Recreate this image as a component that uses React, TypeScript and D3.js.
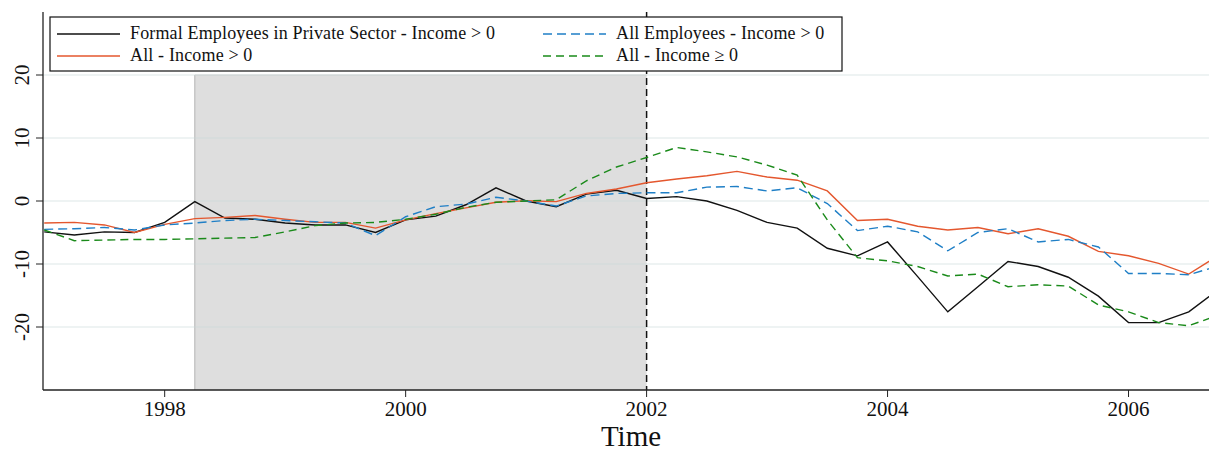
import * as d3 from 'd3'

const quarters = [
  1997, 1997.25, 1997.5, 1997.75, 1998, 1998.25, 1998.5, 1998.75,
  1999, 1999.25, 1999.5, 1999.75, 2000, 2000.25, 2000.5, 2000.75,
  2001, 2001.25, 2001.5, 2001.75, 2002, 2002.25, 2002.5, 2002.75,
  2003, 2003.25, 2003.5, 2003.75, 2004, 2004.25, 2004.5, 2004.75,
  2005, 2005.25, 2005.5, 2005.75, 2006, 2006.25, 2006.5, 2006.75,
]

const formalPrivate = [
  -4.9, -5.4, -4.9, -5.0, -3.4, -0.1, -2.7, -2.9, -3.5, -3.8,
  -3.8, -5.0, -3.0, -2.4, -0.6, 2.1, 0.0, -0.9, 1.1, 1.7,
  0.4, 0.7, 0.0, -1.5, -3.4, -4.3, -7.5, -8.7, -6.5, -12.0,
  -17.6, -13.6, -9.6, -10.4, -12.1, -15.1, -19.3, -19.3, -17.6, -14.0,
]
const allPositive = [
  -3.5, -3.4, -3.8, -5.0, -3.7, -2.8, -2.6, -2.3, -2.9, -3.4,
  -3.4, -4.3, -3.0, -2.0, -1.1, -0.2, 0.05, -0.1, 1.2, 1.9,
  2.9, 3.5, 4.0, 4.7, 3.8, 3.3, 1.6, -3.1, -2.9, -4.0,
  -4.6, -4.2, -5.2, -4.4, -5.6, -8.0, -8.7, -9.9, -11.6, -8.6,
]
const employeesPositive = [
  -4.5, -4.4, -4.2, -4.6, -3.8, -3.5, -3.1, -2.9, -3.1, -3.3,
  -3.5, -5.5, -2.5, -0.9, -0.5, 0.6, 0.0, -0.8, 0.8, 1.2,
  1.3, 1.3, 2.2, 2.3, 1.6, 2.1, -0.4, -4.7, -4.0, -4.9,
  -7.9, -5.0, -4.4, -6.5, -6.1, -7.3, -11.5, -11.5, -11.7, -10.3,
]
const allNonNegative = [
  -4.6, -6.3, -6.2, -6.1, -6.1, -6.0, -5.9, -5.8, -4.9, -3.9,
  -3.5, -3.4, -2.9, -2.1, -1.0, -0.2, 0.0, 0.2, 3.2, 5.4,
  6.9, 8.5, 7.8, 7.0, 5.7, 4.1, -3.0, -9.0, -9.5, -10.4,
  -11.9, -11.6, -13.6, -13.3, -13.5, -16.5, -17.6, -19.3, -19.8, -18.1,
]

const yTicks = [-20, -10, 0, 10, 20]
const xTicks = [1998, 2000, 2002, 2004, 2006]
const shadeStart = 1998.25
const shadeEnd = 2002
const shadeTop = 20
const policyLine = 2002

const series = [
  { label: 'Formal Employees in Private Sector - Income > 0', values: formalPrivate, color: '#111111', dash: null, col: 0, row: 0 },
  { label: 'All - Income > 0', values: allPositive, color: '#e4572e', dash: null, col: 0, row: 1 },
  { label: 'All Employees - Income > 0', values: employeesPositive, color: '#1f7fc6', dash: '9 5', col: 1, row: 0 },
  { label: 'All - Income \u2265 0', values: allNonNegative, color: '#1a8a1a', dash: '8 5', col: 1, row: 1 },
]

const W = 1209
const H = 451
const margin = { top: 12, right: 0, bottom: 61, left: 43 }
const font = '"Liberation Serif", "Times New Roman", serif'

export default function App() {
  const x = d3.scaleLinear().domain([1996.99, 2006.668]).range([margin.left, W - margin.right])
  const y = d3.scaleLinear().domain([-30, 30]).range([H - margin.bottom, margin.top])
  const x0 = margin.left
  const x1 = W - margin.right
  const yBottom = H - margin.bottom

  const line = d3.line<[number, number]>()
    .x(d => x(d[0]))
    .y(d => y(d[1]))

  return (
    <svg
      width={W}
      height={H}
      style={{ position: 'absolute', left: 0, top: 0, background: '#fff' }}
      fontFamily={font}
    >
      <defs>
        <clipPath id="plot">
          <rect x={x0} y={margin.top} width={x1 - x0} height={yBottom - margin.top} />
        </clipPath>
      </defs>

      {/* shaded period */}
      <rect
        x={x(shadeStart)}
        y={y(shadeTop)}
        width={x(shadeEnd) - x(shadeStart)}
        height={yBottom - y(shadeTop)}
        fill="#dedede"
      />
      <line x1={x(shadeStart)} x2={x(shadeStart)} y1={y(shadeTop)} y2={yBottom} stroke="#c6c6c6" strokeWidth={1.5} />
      <line x1={x(shadeStart)} x2={x(shadeEnd)} y1={y(shadeTop)} y2={y(shadeTop)} stroke="#cfcfcf" strokeWidth={1} />

      {/* gridlines */}
      {yTicks.map(t => (
        <line key={t} x1={x0} x2={x1} y1={y(t)} y2={y(t)} stroke="rgba(200,215,215,0.3)" strokeWidth={2} />
      ))}

      {/* vertical dashed line */}
      <line
        x1={x(policyLine)} x2={x(policyLine)} y1={margin.top} y2={yBottom}
        stroke="#111" strokeWidth={1.5} strokeDasharray="7 4"
      />

      {/* series */}
      <g clipPath="url(#plot)">
        {series.map(s => (
          <path
            key={s.label}
            d={line(quarters.map((q, i) => [q, s.values[i]] as [number, number])) ?? ''}
            fill="none"
            stroke={s.color}
            strokeWidth={1.4}
            strokeDasharray={s.dash ?? undefined}
          />
        ))}
      </g>

      {/* axes */}
      <line x1={x0} x2={x0} y1={margin.top} y2={yBottom} stroke="#222" strokeWidth={1.3} />
      <line x1={x0} x2={x1} y1={yBottom} y2={yBottom} stroke="#222" strokeWidth={1.3} />
      {yTicks.map(t => (
        <g key={t}>
          <line x1={x0 - 7} x2={x0} y1={y(t)} y2={y(t)} stroke="#222" strokeWidth={1} />
          <text
            transform={`translate(${x0 - 14},${y(t)}) rotate(-90)`}
            textAnchor="middle"
            fontSize={21}
            fill="#111"
          >
            {t}
          </text>
        </g>
      ))}
      {xTicks.map(t => (
        <g key={t}>
          <line x1={x(t)} x2={x(t)} y1={yBottom} y2={yBottom + 7} stroke="#222" strokeWidth={1} />
          <text x={x(t)} y={yBottom + 26} textAnchor="middle" fontSize={21} fill="#111">
            {t}
          </text>
        </g>
      ))}
      <text x={(x0 + x1) / 2 + 5} y={H - 5} textAnchor="middle" fontSize={29} fill="#111">
        Time
      </text>

      {/* legend */}
      <g>
        <rect x={50} y={17} width={792} height={54} fill="#fff" stroke="#111" strokeWidth={1.2} />
        {series.map(s => {
          const lx = s.col === 0 ? 57 : 543
          const ly = 34 + s.row * 22
          return (
            <g key={s.label}>
              <line x1={lx} x2={lx + 63} y1={ly} y2={ly} stroke={s.color} strokeWidth={1.4} strokeDasharray={s.dash ?? undefined} />
              <text x={lx + 73} y={ly + 5} fontSize={18} letterSpacing={0.15} fill="#111">
                {s.label}
              </text>
            </g>
          )
        })}
      </g>
    </svg>
  )
}
